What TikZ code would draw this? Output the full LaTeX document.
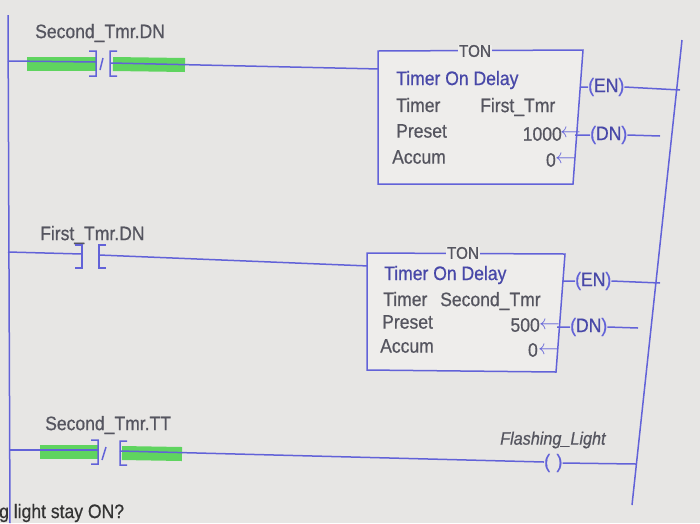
\documentclass[tikz,border=0pt]{standalone}
\usepackage{fontspec}
\setmainfont{Liberation Sans}[FakeStretch=0.9,FakeBold=0.6]
\begin{document}
\begin{tikzpicture}[x=1pt,y=-1pt,
  wire/.style={draw=ladder,line width=1.5pt},
  txt/.style={font=\fontsize{19.5}{22}\selectfont,text=tgray,inner sep=0pt,anchor=west},
  btxt/.style={txt,text=tblue},
  green/.style={draw=hl,line width=14pt},
  tbox/.style={draw=ladder,line width=1.5pt,fill=boxbg}]
\definecolor{ladder}{HTML}{6262D8}
\definecolor{hl}{HTML}{5FD45F}
\definecolor{bg}{HTML}{E7E6E4}
\definecolor{boxbg}{HTML}{EEEDEB}
\definecolor{tgray}{HTML}{55555F}
\definecolor{tblue}{HTML}{4848A8}
\fill[bg] (0,0) rectangle (700,523);
\useasboundingbox (0,0) rectangle (700,523);
\newcommand\cb[1]{\textcolor{ladder}{(}#1\textcolor{ladder}{)}}
% rails
\coordinate (l1) at (8,15); \coordinate (l2) at (10,523);
\coordinate (r1) at (682,40); \coordinate (r2) at (632,505);
\draw[wire] (l1) -- (l2);
\draw[wire] (r1) -- (r2);
% ---------- rung 1
\node[txt] (lab1) at (35,33) {Second\_Tmr.DN};
\draw[green] (27,64) -- (96,64);
\draw[green] (113,64) -- (185,65);
\draw[wire] (8,61) -- (96,62);
\draw[wire] (111,63) -- (380,69);
\draw[ladder,line width=1.5pt] (89,51)--(96,51)--(96,76)--(89,76) (100,70)--(103,58) (117,51)--(110,51)--(110,76)--(117,76);
\draw[tbox] (378,51) coordinate (t1a) -- (583,50) -- (573,184) -- (378,184) -- cycle;
\node[txt,anchor=center,fill=boxbg,inner xsep=1pt,font=\fontsize{17}{19}\selectfont] (ton1) at (475,51) {TON};
\node[btxt] at (396,80) {Timer On Delay};
\node[txt] at (396,105) {Timer};
\node[txt] at (480,107) {First\_Tmr};
\node[txt] at (396,131) {Preset};
\node[txt,anchor=east] at (562,134) {1000};
\node[txt] at (392,157) {Accum};
\node[txt,anchor=east] at (556,160) {0};
\node[btxt,text=ladder] at (560,134) {$\leftarrow$};
\node[btxt,text=ladder] at (555,160) {$\leftarrow$};
\node[btxt] (en1) at (588,87) {\cb{EN}};
\draw[wire] (581,87)--(en1.west) (en1.east)--(680,90);
\node[btxt] (dn1) at (590,135) {\cb{DN}};
\draw[wire] (575,135)--(dn1.west) (dn1.east)--(660,136);
% ---------- rung 2
\node[txt] (lab2) at (40,235) {First\_Tmr.DN};
\draw[wire] (8,252) -- (82,254);
\draw[wire] (99,255) -- (369,266);
\draw[ladder,line width=1.5pt] (75,245)--(82,245)--(82,268)--(75,268) (106,245)--(99,245)--(99,268)--(106,268);
\draw[tbox] (367,253) -- (565,254) -- (556,372) -- (367,370) -- cycle;
\node[txt,anchor=center,fill=boxbg,inner xsep=1pt,font=\fontsize{17}{19}\selectfont] (ton2) at (463,253) {TON};
\node[btxt] at (384,275) {Timer On Delay};
\node[txt] at (383,299) {Timer};
\node[txt] at (440,301) {Second\_Tmr};
\node[txt] at (382,322) {Preset};
\node[txt,anchor=east] at (540,325) {500};
\node[txt] at (380,346) {Accum};
\node[txt,anchor=east] at (538,350) {0};
\node[btxt,text=ladder] at (539,326) {$\leftarrow$};
\node[btxt,text=ladder] at (538,351) {$\leftarrow$};
\node[btxt] (en2) at (575,281) {\cb{EN}};
\draw[wire] (563,281)--(en2.west) (en2.east)--(660,283);
\node[btxt] (dn2) at (570,327) {\cb{DN}};
\draw[wire] (557,327)--(dn2.west) (dn2.east)--(638,328);
% ---------- rung 3
\node[txt] (lab3) at (45,425) {Second\_Tmr.TT};
\draw[green] (40,452) -- (98,452);
\draw[green] (122,453) -- (182,454);
\draw[wire] (9,450) -- (98,450);
\draw[wire] (120,451) -- (544,462);
\draw[ladder,line width=1.5pt] (91,440)--(98,440)--(98,464)--(91,464) (102,460)--(106,447) (127,441)--(120,441)--(120,465)--(127,465);
\node[txt,font=\fontsize{18}{20}\selectfont\itshape] (fl) at (500,440) {Flashing\_Light};
\node[btxt,text=ladder] (coil) at (544,463) {(\,\,)};
\draw[wire] (coil.east)--(636,464);
% bottom text
\node[txt,text=black!80] (q) at (-1,513) {g light stay ON?};
\end{tikzpicture}
\end{document}
